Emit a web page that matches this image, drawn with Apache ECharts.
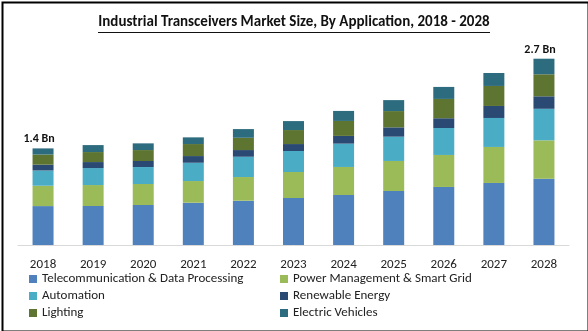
<!DOCTYPE html>
<html>
<head>
<meta charset="utf-8">
<script src="https://cdn.jsdelivr.net/npm/echarts@6/dist/echarts.min.js"></script>
<style>
  html, body { margin: 0; padding: 0; background: #fff; }
  #chart { width: 588px; height: 331px; }
</style>
</head>
<body>
<div id="chart"></div>
<script>
// Years on the category axis
const years = ['2018', '2019', '2020', '2021', '2022', '2023', '2024', '2025', '2026', '2027', '2028'];

// Market size by application, USD billion
const telecom    = [0.564, 0.565, 0.580, 0.613, 0.642, 0.681, 0.725, 0.783, 0.841, 0.899, 0.960];
const powerGrid  = [0.295, 0.304, 0.304, 0.314, 0.343, 0.377, 0.406, 0.435, 0.464, 0.522, 0.557];
const automation = [0.221, 0.246, 0.246, 0.265, 0.294, 0.304, 0.338, 0.352, 0.391, 0.420, 0.457];
const renewable  = [0.084, 0.087, 0.087, 0.097, 0.097, 0.101, 0.112, 0.135, 0.141, 0.174, 0.181];
const lighting   = [0.147, 0.145, 0.159, 0.174, 0.178, 0.203, 0.217, 0.236, 0.280, 0.290, 0.319];
const electricEV = [0.089, 0.101, 0.097, 0.097, 0.126, 0.130, 0.145, 0.159, 0.174, 0.188, 0.226];

// Years whose stack total is printed above the bar
const labelledYears = ['2018', '2028'];

const seriesDefs = [
  { name: 'Telecommunication & Data Processing', data: telecom,    color: '#4f81bd' },
  { name: 'Power Management & Smart Grid',       data: powerGrid,  color: '#9bbb59' },
  { name: 'Automation',                          data: automation, color: '#4bacc6' },
  { name: 'Renewable Energy',                    data: renewable,  color: '#2a4a74' },
  { name: 'Lighting',                            data: lighting,   color: '#5e7531' },
  { name: 'Electric Vehicles',                   data: electricEV, color: '#2d6c7e' }
];

const totals = years.map((_, i) => seriesDefs.reduce((s, d) => s + d.data[i], 0));

const FONT = 'Carlito, Calibri, "Liberation Sans", sans-serif';

const series = seriesDefs.map((d, si) => ({
  name: d.name,
  type: 'bar',
  stack: 'total',
  barWidth: 21,
  itemStyle: { color: d.color },
  emphasis: { disabled: true },
  data: d.data.map((v, i) => {
    const item = { value: v };
    if (si === seriesDefs.length - 1 && labelledYears.includes(years[i])) {
      item.label = {
        show: true,
        position: 'top',
        distance: 3,
        offset: [-4, 0],
        formatter: () => totals[i].toFixed(1) + ' Bn',
        fontFamily: FONT,
        fontWeight: 'bold',
        fontSize: 12,
        color: '#111'
      };
    }
    return item;
  })
}));

const legendText = { fontFamily: FONT, fontSize: 13, color: '#222', lineHeight: 14 };

const chart = echarts.init(document.getElementById('chart'), null, { renderer: 'canvas' });
chart.setOption({
  animation: false,
  backgroundColor: '#fff',
  grid: { left: 18, right: 19, top: 38, bottom: 86, containLabel: false },
  xAxis: {
    type: 'category',
    data: years,
    axisLine: { show: true, lineStyle: { color: '#d9d9d9', width: 1 } },
    axisTick: { show: false },
    axisLabel: { margin: 13, fontFamily: FONT, fontSize: 13, color: '#222' }
  },
  yAxis: {
    type: 'value',
    min: 0,
    max: 3,
    show: false,
    splitLine: { show: false }
  },
  legend: [
    {
      orient: 'vertical',
      left: 24,
      top: 267,
      itemWidth: 8,
      itemHeight: 8,
      itemGap: 3,
      icon: 'rect',
      textStyle: legendText,
      selectedMode: false,
      data: [seriesDefs[0].name, seriesDefs[2].name, seriesDefs[4].name]
    },
    {
      orient: 'vertical',
      left: 275,
      top: 267,
      itemWidth: 8,
      itemHeight: 8,
      itemGap: 3,
      icon: 'rect',
      textStyle: legendText,
      selectedMode: false,
      data: [seriesDefs[1].name, seriesDefs[3].name, seriesDefs[5].name]
    }
  ],
  graphic: [
    {
      type: 'group',
      left: 'center',
      top: 15,
      children: [
        {
          type: 'text',
          style: {
            text: 'Industrial Transceivers Market Size, By Application, 2018 - 2028',
            fontFamily: FONT,
            fontWeight: 'bold',
            fontSize: 15,
            fill: '#111'
          }
        }
      ]
    },
    {
      type: 'rect',
      left: 'center',
      top: 32,
      shape: { width: 392, height: 1 },
      style: { fill: '#111' }
    },
    {
      type: 'rect',
      left: 0,
      top: 0,
      shape: { x: 1, y: 1, width: 586, height: 329 },
      style: { fill: 'none', stroke: '#000', lineWidth: 2 },
      silent: true
    }
  ],
  series: series
});
</script>
</body>
</html>
